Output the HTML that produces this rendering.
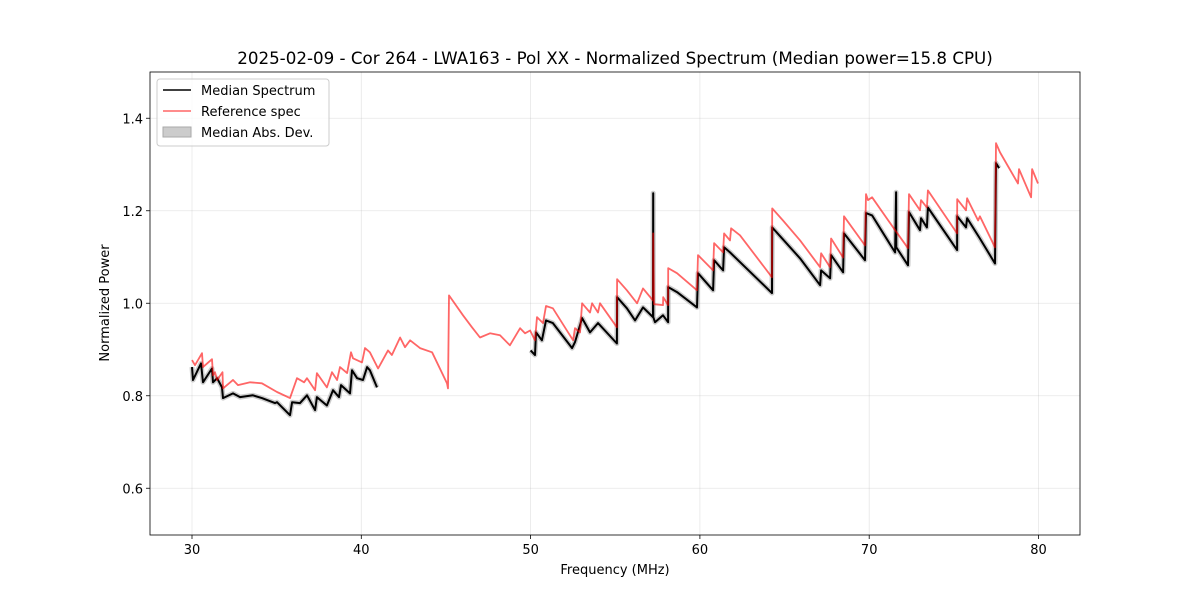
<!DOCTYPE html>
<html><head><meta charset="utf-8"><style>
body{margin:0;background:#fff}
svg text{font-family:"DejaVu Sans","Liberation Sans",sans-serif}
</style></head><body>
<svg id="chart" width="1200" height="600" viewBox="0 0 1200 600">
<rect width="1200" height="600" fill="#fff"/>
<g id="grid"></g><g id="series"></g><g id="axes"></g>
<text x="615" y="64" text-anchor="middle" font-size="16.7">2025-02-09 - Cor 264 - LWA163 - Pol XX - Normalized Spectrum (Median power=15.8 CPU)</text>
<text x="615" y="574" text-anchor="middle" font-size="13">Frequency (MHz)</text>
<text transform="translate(109,303) rotate(-90)" text-anchor="middle" font-size="13">Normalized Power</text>
<g>
<rect x="157" y="79" width="172" height="67" rx="3" fill="#fff" fill-opacity="0.8" stroke="#ccc"/>
<line x1="163" y1="90" x2="191" y2="90" stroke="#000" stroke-width="1.5"/>
<text x="201" y="95" font-size="13">Median Spectrum</text>
<line x1="163" y1="111" x2="191" y2="111" stroke="#ff6666" stroke-width="1.5"/>
<text x="201" y="116" font-size="13">Reference spec</text>
<rect x="163" y="127" width="28" height="10" fill="#ccc" stroke="#aaa"/>
<text x="201" y="137" font-size="13">Median Abs. Dev.</text>
</g>
</svg>
<script>
const xTicks=[30,40,50,60,70,80];
const yTicks=[0.6,0.8,1.0,1.2,1.4];
const yTickLabels=["0.6","0.8","1.0","1.2","1.4"];
const refFreq=[30.0,30.18,30.59,30.65,31.18,31.24,31.36,31.48,31.80,31.83,32.42,32.72,33.43,34.13,35.02,35.79,36.20,36.62,36.79,37.27,37.38,37.97,38.27,38.57,38.74,39.16,39.39,39.51,40.04,40.22,40.51,40.99,41.58,41.81,42.29,42.58,42.88,43.47,44.18,45.06,45.12,45.18,46.01,46.54,47.01,47.60,48.19,48.78,49.38,49.67,49.97,50.26,50.38,50.73,50.91,51.32,52.51,52.62,52.92,53.04,53.51,53.63,53.98,54.10,55.10,55.11,55.69,56.29,56.64,57.23,57.24,57.29,57.82,57.83,58.12,58.13,58.65,59.83,59.89,60.78,60.84,61.37,61.43,61.78,61.84,62.37,64.26,64.27,64.91,65.92,67.10,67.16,67.69,67.75,68.46,68.51,69.75,69.81,69.93,70.17,71.53,72.29,72.35,73.00,73.06,73.41,73.47,75.19,75.20,75.72,75.78,76.43,76.54,77.43,77.49,77.73,78.79,78.85,79.56,79.62,79.97];
const refPower=[0.877,0.866,0.892,0.862,0.879,0.844,0.851,0.834,0.851,0.816,0.834,0.823,0.829,0.827,0.808,0.795,0.838,0.829,0.838,0.812,0.849,0.818,0.851,0.834,0.862,0.849,0.894,0.881,0.872,0.903,0.894,0.859,0.898,0.888,0.926,0.905,0.920,0.903,0.894,0.827,0.816,1.017,0.974,0.948,0.926,0.935,0.931,0.909,0.946,0.935,0.941,0.920,0.970,0.957,0.994,0.989,0.920,0.946,0.937,1.000,0.980,1.000,0.980,1.000,0.948,1.052,1.028,1.000,1.032,1.006,1.151,0.998,0.996,1.013,0.996,1.076,1.065,1.028,1.104,1.071,1.130,1.110,1.151,1.136,1.162,1.147,1.056,1.205,1.179,1.136,1.078,1.108,1.078,1.140,1.099,1.188,1.125,1.236,1.223,1.229,1.158,1.119,1.236,1.201,1.223,1.207,1.244,1.151,1.225,1.201,1.227,1.179,1.188,1.121,1.346,1.326,1.259,1.290,1.229,1.290,1.259];
const medFreq1=[30.0,30.06,30.53,30.65,31.18,31.24,31.48,31.77,31.83,32.42,32.84,33.60,34.13,34.90,35.02,35.79,35.91,36.38,36.79,37.27,37.38,37.97,38.33,38.68,38.80,39.33,39.45,39.75,40.10,40.34,40.51,40.93];
const medPower1=[0.862,0.834,0.870,0.829,0.859,0.829,0.838,0.818,0.795,0.805,0.797,0.801,0.795,0.784,0.786,0.758,0.786,0.784,0.801,0.769,0.797,0.779,0.812,0.797,0.823,0.805,0.855,0.838,0.834,0.862,0.855,0.818];
const medFreq2=[50.0,50.26,50.32,50.67,50.91,51.32,52.45,52.62,53.04,53.51,53.98,55.10,55.11,55.69,56.17,56.64,57.23,57.24,57.25,57.35,57.82,58.12,58.13,58.65,59.83,59.89,60.78,60.84,61.37,61.43,61.78,64.26,64.27,65.92,67.10,67.16,67.69,67.75,68.46,68.51,69.75,69.81,70.17,71.53,71.59,71.60,72.29,72.35,73.00,73.06,73.41,73.47,75.19,75.20,75.72,75.78,76.54,77.43,77.49,77.67];
const medPower2=[0.898,0.888,0.937,0.920,0.963,0.957,0.903,0.916,0.968,0.937,0.957,0.913,1.013,0.989,0.963,0.991,0.970,1.238,0.970,0.959,0.974,0.959,1.035,1.024,0.991,1.065,1.028,1.093,1.071,1.121,1.110,1.022,1.164,1.097,1.039,1.071,1.054,1.104,1.067,1.151,1.093,1.195,1.190,1.110,1.240,1.121,1.082,1.197,1.158,1.184,1.164,1.207,1.115,1.188,1.164,1.184,1.140,1.086,1.303,1.292];

const X0=150,X1=1080,Y0=72,Y1=535;
const xS=f=>192+(f-30)*16.93;
const yS=v=>534.5-(v-0.5)*462.5;
const NS="http://www.w3.org/2000/svg";
function mk(tag,attrs,parent){const e=document.createElementNS(NS,tag);for(const k in attrs)e.setAttribute(k,attrs[k]);parent.appendChild(e);return e;}
const grid=document.getElementById('grid'),axes=document.getElementById('axes'),ser=document.getElementById('series');
xTicks.forEach(t=>{const x=xS(t);
 const g=mk('line',{x1:x,x2:x,y1:Y0,y2:Y1,stroke:'#b0b0b0','stroke-opacity':0.3,'stroke-width':0.8},grid);
 
 
 mk('line',{x1:x,x2:x,y1:Y1,y2:Y1+4,stroke:'#000','stroke-width':0.8},axes);
 const tx=mk('text',{x:x,y:Y1+19,'text-anchor':'middle','font-size':13},axes);tx.textContent=String(t);
 
 
});
yTicks.forEach((t,i)=>{const y=yS(t);
 const g=mk('line',{x1:X0,x2:X1,y1:y,y2:y,stroke:'#b0b0b0','stroke-opacity':0.3,'stroke-width':0.8},grid);
 
 
 mk('line',{x1:X0-4,x2:X0,y1:y,y2:y,stroke:'#000','stroke-width':0.8},axes);
 const tx=mk('text',{x:X0-7,y:y+5,'text-anchor':'end','font-size':13},axes);tx.textContent=yTickLabels[i];
 
 
});
const fr=mk('rect',{x:X0,y:Y0,width:X1-X0,height:Y1-Y0,fill:'none',stroke:'#000','stroke-width':0.8},axes);


function pts(fs,vs){return fs.map((f,i)=>xS(f).toFixed(1)+','+yS(vs[i]).toFixed(1)).join(' ');}
[[medFreq1,medPower1],[medFreq2,medPower2]].forEach(([f,v],k)=>{
 const b=mk('polyline',{points:pts(f,v),fill:'none',stroke:'#999','stroke-opacity':0.5,'stroke-width':5,'stroke-linejoin':'round'},ser);
 
 
});
[[medFreq1,medPower1],[medFreq2,medPower2]].forEach(([f,v],k)=>{
 const l=mk('polyline',{points:pts(f,v),fill:'none',stroke:'#000','stroke-width':2,'stroke-linejoin':'round'},ser);
 
 
});
const r=mk('polyline',{points:pts(refFreq,refPower),fill:'none',stroke:'#ff0000','stroke-opacity':0.6,'stroke-width':1.8,'stroke-linejoin':'round'},ser);


</script>
</body></html>
